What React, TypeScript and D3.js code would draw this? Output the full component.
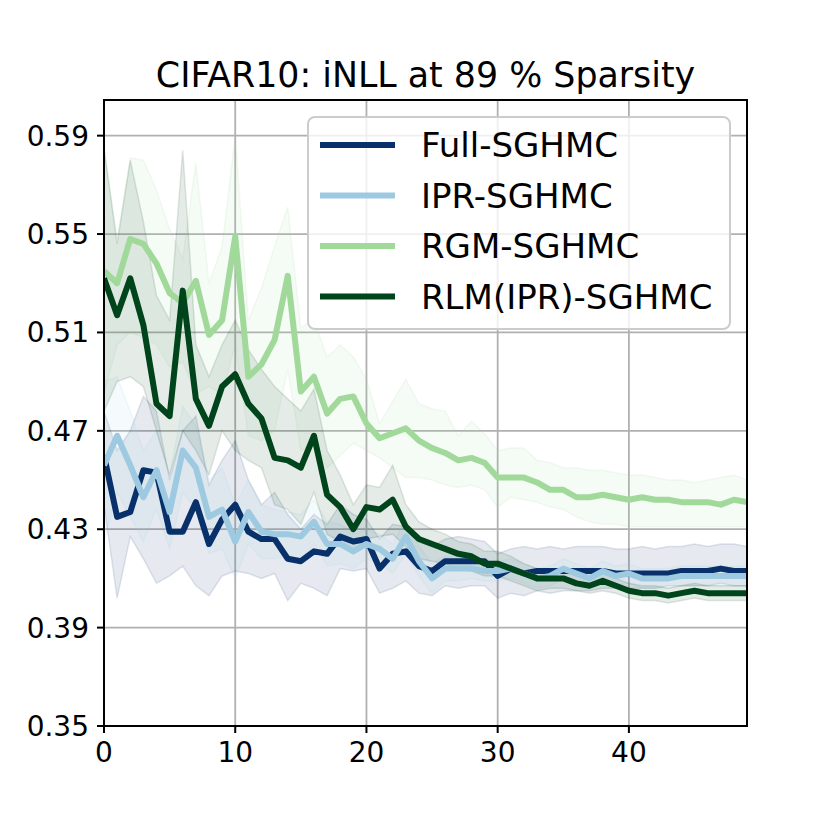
import * as d3 from "d3";

const EPOCHS = d3.range(0, 50);
const X_TICKS = [0, 10, 20, 30, 40];
const Y_TICKS = [0.35, 0.39, 0.43, 0.47, 0.51, 0.55, 0.59];
const TITLE = "CIFAR10: iNLL at 89 % Sparsity";

const FULL_MEAN = [0.460, 0.435, 0.437, 0.454, 0.453, 0.429, 0.429, 0.441, 0.424, 0.434, 0.440, 0.429, 0.426, 0.426, 0.418, 0.417, 0.421, 0.420, 0.427, 0.425, 0.426, 0.414, 0.420, 0.421, 0.415, 0.413, 0.417, 0.417, 0.417, 0.417, 0.411, 0.414, 0.412, 0.413, 0.413, 0.413, 0.413, 0.413, 0.413, 0.412, 0.412, 0.412, 0.412, 0.412, 0.413, 0.413, 0.413, 0.414, 0.413, 0.413];
const FULL_HI = [0.478, 0.462, 0.470, 0.484, 0.478, 0.450, 0.470, 0.476, 0.448, 0.458, 0.466, 0.450, 0.440, 0.445, 0.436, 0.430, 0.436, 0.432, 0.440, 0.436, 0.434, 0.426, 0.432, 0.431, 0.425, 0.423, 0.426, 0.427, 0.426, 0.425, 0.420, 0.422, 0.423, 0.422, 0.423, 0.422, 0.423, 0.423, 0.423, 0.422, 0.422, 0.423, 0.422, 0.423, 0.423, 0.424, 0.423, 0.424, 0.424, 0.423];
const FULL_LO = [0.440, 0.402, 0.427, 0.418, 0.408, 0.411, 0.415, 0.407, 0.403, 0.411, 0.413, 0.412, 0.410, 0.412, 0.401, 0.408, 0.406, 0.403, 0.414, 0.413, 0.414, 0.404, 0.406, 0.409, 0.404, 0.403, 0.407, 0.406, 0.407, 0.407, 0.402, 0.404, 0.403, 0.405, 0.404, 0.405, 0.405, 0.405, 0.406, 0.406, 0.406, 0.406, 0.406, 0.407, 0.407, 0.407, 0.407, 0.408, 0.407, 0.407];

const IPR_MEAN = [0.456, 0.468, 0.456, 0.443, 0.454, 0.437, 0.462, 0.455, 0.435, 0.438, 0.425, 0.437, 0.429, 0.428, 0.428, 0.427, 0.433, 0.424, 0.424, 0.421, 0.424, 0.422, 0.418, 0.427, 0.417, 0.410, 0.414, 0.414, 0.414, 0.413, 0.413, 0.414, 0.412, 0.410, 0.411, 0.414, 0.412, 0.410, 0.413, 0.411, 0.412, 0.410, 0.410, 0.410, 0.411, 0.411, 0.411, 0.411, 0.411, 0.411];
const IPR_HI = [0.490, 0.492, 0.478, 0.462, 0.470, 0.452, 0.480, 0.472, 0.450, 0.455, 0.440, 0.450, 0.440, 0.438, 0.437, 0.436, 0.442, 0.433, 0.432, 0.428, 0.430, 0.428, 0.424, 0.434, 0.423, 0.416, 0.419, 0.419, 0.418, 0.417, 0.417, 0.418, 0.416, 0.414, 0.415, 0.418, 0.416, 0.414, 0.417, 0.415, 0.416, 0.414, 0.414, 0.414, 0.415, 0.415, 0.415, 0.415, 0.415, 0.415];
const IPR_LO = [0.425, 0.445, 0.435, 0.425, 0.438, 0.422, 0.445, 0.438, 0.420, 0.422, 0.410, 0.424, 0.418, 0.418, 0.419, 0.418, 0.424, 0.415, 0.416, 0.414, 0.418, 0.416, 0.412, 0.420, 0.411, 0.404, 0.409, 0.409, 0.410, 0.409, 0.409, 0.410, 0.408, 0.406, 0.407, 0.410, 0.408, 0.406, 0.409, 0.407, 0.408, 0.406, 0.406, 0.406, 0.407, 0.407, 0.407, 0.407, 0.407, 0.407];

const RGM_MEAN = [0.535, 0.530, 0.548, 0.546, 0.538, 0.526, 0.522, 0.531, 0.509, 0.515, 0.549, 0.492, 0.497, 0.507, 0.533, 0.486, 0.492, 0.477, 0.483, 0.484, 0.473, 0.467, 0.469, 0.471, 0.466, 0.463, 0.461, 0.458, 0.459, 0.457, 0.451, 0.451, 0.451, 0.449, 0.446, 0.446, 0.443, 0.443, 0.444, 0.443, 0.442, 0.443, 0.442, 0.442, 0.441, 0.441, 0.441, 0.440, 0.442, 0.441];
const RGM_HI = [0.585, 0.548, 0.581, 0.580, 0.568, 0.552, 0.540, 0.579, 0.530, 0.545, 0.590, 0.515, 0.528, 0.545, 0.561, 0.512, 0.515, 0.500, 0.505, 0.500, 0.491, 0.473, 0.482, 0.491, 0.481, 0.479, 0.478, 0.468, 0.474, 0.469, 0.462, 0.463, 0.463, 0.458, 0.457, 0.455, 0.455, 0.454, 0.454, 0.453, 0.452, 0.452, 0.451, 0.450, 0.450, 0.449, 0.450, 0.451, 0.452, 0.450];
const RGM_LO = [0.485, 0.505, 0.510, 0.508, 0.505, 0.496, 0.498, 0.485, 0.488, 0.485, 0.505, 0.468, 0.466, 0.470, 0.495, 0.462, 0.465, 0.455, 0.460, 0.465, 0.462, 0.459, 0.455, 0.451, 0.451, 0.450, 0.448, 0.447, 0.448, 0.446, 0.439, 0.443, 0.442, 0.441, 0.439, 0.438, 0.435, 0.433, 0.432, 0.432, 0.431, 0.431, 0.431, 0.431, 0.431, 0.431, 0.431, 0.431, 0.431, 0.431];

const RLM_MEAN = [0.532, 0.517, 0.532, 0.513, 0.481, 0.476, 0.527, 0.483, 0.472, 0.488, 0.493, 0.481, 0.475, 0.459, 0.458, 0.455, 0.468, 0.444, 0.439, 0.430, 0.439, 0.438, 0.442, 0.431, 0.426, 0.424, 0.422, 0.420, 0.419, 0.416, 0.416, 0.414, 0.412, 0.410, 0.410, 0.410, 0.408, 0.407, 0.409, 0.407, 0.405, 0.404, 0.404, 0.403, 0.404, 0.405, 0.404, 0.404, 0.404, 0.404];
const RLM_HI = [0.585, 0.546, 0.580, 0.555, 0.525, 0.515, 0.584, 0.505, 0.492, 0.505, 0.515, 0.503, 0.495, 0.488, 0.483, 0.478, 0.487, 0.462, 0.452, 0.440, 0.448, 0.447, 0.456, 0.440, 0.433, 0.430, 0.428, 0.425, 0.424, 0.421, 0.421, 0.419, 0.416, 0.414, 0.413, 0.413, 0.411, 0.410, 0.412, 0.410, 0.408, 0.407, 0.407, 0.406, 0.407, 0.408, 0.407, 0.407, 0.407, 0.407];
const RLM_LO = [0.478, 0.490, 0.492, 0.488, 0.470, 0.452, 0.470, 0.462, 0.452, 0.470, 0.462, 0.458, 0.455, 0.440, 0.438, 0.432, 0.445, 0.428, 0.425, 0.420, 0.426, 0.427, 0.428, 0.423, 0.418, 0.417, 0.416, 0.414, 0.413, 0.411, 0.411, 0.409, 0.407, 0.405, 0.406, 0.406, 0.405, 0.404, 0.405, 0.404, 0.402, 0.401, 0.401, 0.400, 0.401, 0.402, 0.401, 0.401, 0.401, 0.401];

const SERIES = [
  { name: "Full-SGHMC", color: "#08306b", mean: FULL_MEAN, hi: FULL_HI, lo: FULL_LO },
  { name: "IPR-SGHMC", color: "#9ecae1", mean: IPR_MEAN, hi: IPR_HI, lo: IPR_LO },
  { name: "RGM-SGHMC", color: "#a1d99b", mean: RGM_MEAN, hi: RGM_HI, lo: RGM_LO },
  { name: "RLM(IPR)-SGHMC", color: "#00441b", mean: RLM_MEAN, hi: RLM_HI, lo: RLM_LO },
];

const W = 830;
const H = 830;
const M = { top: 100, right: 83, bottom: 104, left: 104 };
const FONT = "DejaVu Sans, sans-serif";

export default function App() {
  const x = d3.scaleLinear().domain([0, 49]).range([M.left, W - M.right]);
  const y = d3.scaleLinear().domain([0.35, 0.6045]).range([H - M.bottom, M.top]);

  const line = (vals: number[]) =>
    d3.line<number>().x((_, i) => x(EPOCHS[i])).y((d) => y(d))(vals) ?? "";
  const area = (lo: number[], hi: number[]) =>
    d3
      .area<number>()
      .x((_, i) => x(EPOCHS[i]))
      .y0((_, i) => y(lo[i]))
      .y1((_, i) => y(hi[i]))(EPOCHS) ?? "";

  const legendX = 308;
  const legendY = 117;
  const rowGap = 50.5;

  return (
    <div style={{ position: "fixed", left: 0, top: 0 }}>
      <svg width={W} height={H} style={{ display: "block", background: "#fff" }} fontFamily={FONT}>
        <defs>
          <clipPath id="plot">
            <rect x={M.left} y={M.top} width={W - M.left - M.right} height={H - M.top - M.bottom} />
          </clipPath>
        </defs>

        {/* grid */}
        {X_TICKS.map((t) => (
          <line key={`gx${t}`} x1={x(t)} x2={x(t)} y1={M.top} y2={H - M.bottom} stroke="#b0b0b0" strokeWidth={1.8} />
        ))}
        {Y_TICKS.map((t) => (
          <line key={`gy${t}`} x1={M.left} x2={W - M.right} y1={y(t)} y2={y(t)} stroke="#b0b0b0" strokeWidth={1.8} />
        ))}

        <g clipPath="url(#plot)">
          {SERIES.map((s) => (
            <path key={`a${s.name}`} d={area(s.lo, s.hi)} fill={s.color} fillOpacity={0.1} stroke={s.color} strokeOpacity={0.12} strokeWidth={1.5} />
          ))}
          {SERIES.map((s) => (
            <path key={`l${s.name}`} d={line(s.mean)} fill="none" stroke={s.color} strokeWidth={6} strokeLinejoin="round" />
          ))}
        </g>

        {/* spines */}
        <rect x={M.left} y={M.top} width={W - M.left - M.right} height={H - M.top - M.bottom} fill="none" stroke="#000" strokeWidth={2} />

        {/* x ticks */}
        {X_TICKS.map((t) => (
          <g key={`tx${t}`}>
            <line x1={x(t)} x2={x(t)} y1={H - M.bottom} y2={H - M.bottom + 7} stroke="#000" strokeWidth={2} />
            <text x={x(t)} y={762} textAnchor="middle" fontSize={28} fill="#000">
              {t}
            </text>
          </g>
        ))}
        {/* y ticks */}
        {Y_TICKS.map((t) => (
          <g key={`ty${t}`}>
            <line x1={M.left - 7} x2={M.left} y1={y(t)} y2={y(t)} stroke="#000" strokeWidth={2} />
            <text x={89} y={y(t) + 10} textAnchor="end" fontSize={28} fill="#000">
              {t.toFixed(2)}
            </text>
          </g>
        ))}

        <text x={(M.left + W - M.right) / 2} y={87} textAnchor="middle" fontSize={34.8} fill="#000">
          {TITLE}
        </text>

        {/* legend */}
        <rect x={legendX} y={legendY} width={422} height={212} rx={7} fill="#fff" fillOpacity={0.8} stroke="#cccccc" strokeWidth={2} />
        {SERIES.map((s, i) => {
          const ry = 145 + i * rowGap;
          return (
            <g key={`lg${s.name}`}>
              <line x1={320} x2={395} y1={ry} y2={ry} stroke={s.color} strokeWidth={6} />
              <text x={421} y={ry + 12.4} fontSize={34} fill="#000">
                {s.name}
              </text>
            </g>
          );
        })}
      </svg>
    </div>
  );
}
